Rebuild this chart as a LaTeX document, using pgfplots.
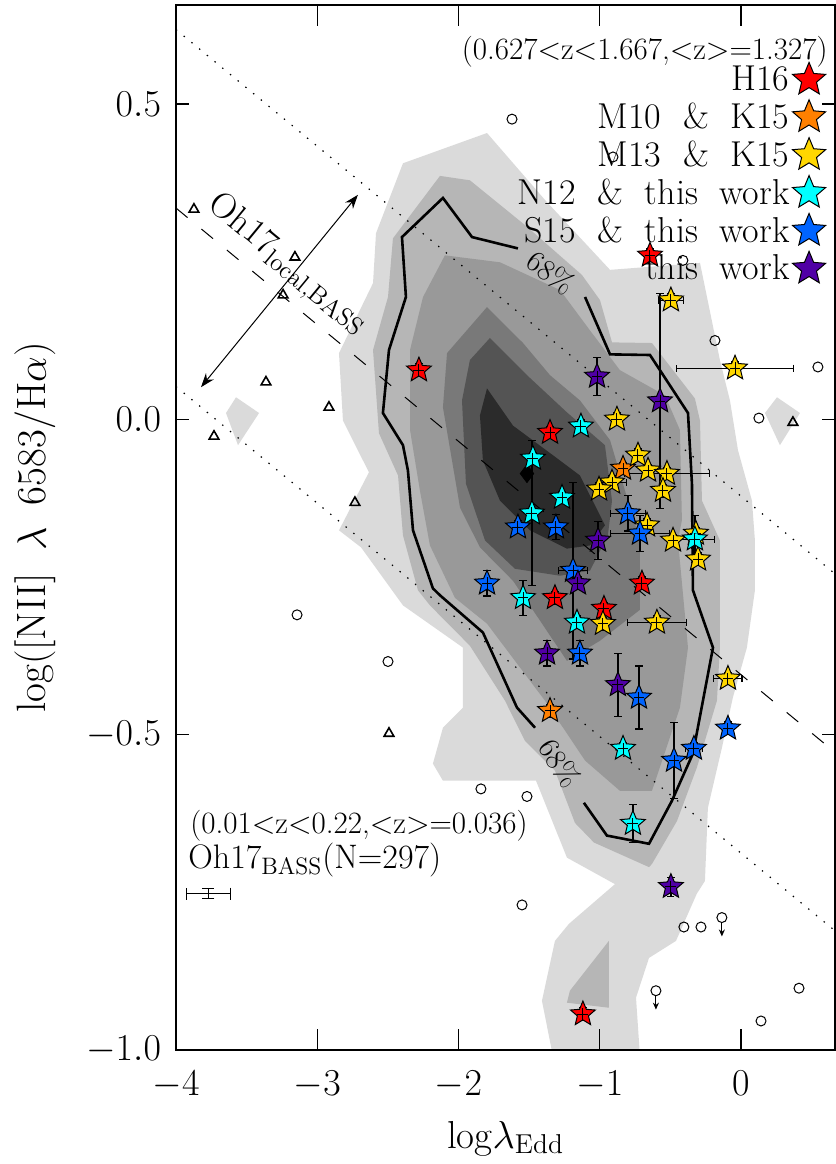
\RequirePackage{fix-cm}
\documentclass[border=0pt]{standalone}
\usepackage{fontspec}
\usepackage{pgfplots}
\usepackage{pgfplotstable}
\pgfplotsset{compat=1.18}
\usetikzlibrary{arrows.meta}

\definecolor{cA}{gray}{0.855}
\definecolor{cB}{gray}{0.715}
\definecolor{cC}{gray}{0.60}
\definecolor{cD}{gray}{0.475}
\definecolor{cE}{gray}{0.33}
\definecolor{cF}{gray}{0.17}
\definecolor{sred}{RGB}{255,0,0}
\definecolor{sorange}{RGB}{255,128,0}
\definecolor{syellow}{RGB}{255,215,0}
\definecolor{scyan}{RGB}{0,255,255}
\definecolor{sblue}{RGB}{0,100,255}
\definecolor{spurple}{RGB}{80,0,165}

\newcommand{\fs}[1]{\fontsize{#1}{#1}\selectfont}
\DeclareRobustCommand{\legfont}{\fontsize{18}{18}\selectfont\spaceskip=0.6em plus 0.1em\relax}
\DeclareRobustCommand{\ylabfont}{\fontsize{20.5}{20.5}\selectfont\spaceskip=0.55em plus 0.1em\relax}

\newcommand{\starpath}{%
  \pgfpathmoveto{\pgfpointpolar{90}{\pgfplotmarksize}}%
  \pgfpathlineto{\pgfpointpolar{126}{0.45*\pgfplotmarksize}}%
  \pgfpathlineto{\pgfpointpolar{162}{\pgfplotmarksize}}%
  \pgfpathlineto{\pgfpointpolar{198}{0.45*\pgfplotmarksize}}%
  \pgfpathlineto{\pgfpointpolar{234}{\pgfplotmarksize}}%
  \pgfpathlineto{\pgfpointpolar{270}{0.45*\pgfplotmarksize}}%
  \pgfpathlineto{\pgfpointpolar{306}{\pgfplotmarksize}}%
  \pgfpathlineto{\pgfpointpolar{342}{0.45*\pgfplotmarksize}}%
  \pgfpathlineto{\pgfpointpolar{18}{\pgfplotmarksize}}%
  \pgfpathlineto{\pgfpointpolar{54}{0.45*\pgfplotmarksize}}%
  \pgfpathclose}
\pgfdeclareplotmark{fstar}{\starpath\pgfusepathqfillstroke}
\pgfdeclareplotmark{fstarx}{%
  \starpath\pgfusepathqfillstroke
  \pgfpathmoveto{\pgfqpoint{-0.42\pgfplotmarksize}{0pt}}%
  \pgfpathlineto{\pgfqpoint{0.42\pgfplotmarksize}{0pt}}%
  \pgfpathmoveto{\pgfqpoint{0pt}{-0.45\pgfplotmarksize}}%
  \pgfpathlineto{\pgfqpoint{0pt}{0.45\pgfplotmarksize}}%
  \pgfusepathqstroke}

\pgfplotstableread{
x y ex ey
-2.280 0.078 0.04 0.01
-0.644 0.260 0.04 0.01
-1.352 -0.021 0.04 0.01
-1.317 -0.283 0.04 0.01
-0.701 -0.260 0.04 0.01
-0.970 -0.300 0.04 0.01
-1.119 -0.943 0.04 0.01
}\tred
\pgfplotstableread{
x y ex ey
-0.835 -0.078 0.04 0.01
-1.352 -0.462 0.04 0.01
}\torange
\pgfplotstableread{
x y ex ey
-0.496 0.189 0.09 0.01
-0.042 0.081 0.415 0.01
-0.878 0.000 0.04 0.01
-0.729 -0.057 0.04 0.01
-0.658 -0.081 0.04 0.01
-0.524 -0.086 0.30 0.01
-0.552 -0.113 0.04 0.01
-0.913 -0.100 0.10 0.01
-1.005 -0.111 0.04 0.01
-0.665 -0.168 0.04 0.01
-0.481 -0.192 0.04 0.01
-0.319 -0.181 0.04 0.01
-0.304 -0.222 0.04 0.01
-0.977 -0.324 0.04 0.01
-0.595 -0.322 0.21 0.01
-0.092 -0.411 0.10 0.01
}\tyellow
\pgfplotstableread{
x y ex ey
-1.133 -0.011 0.04 0.01
-1.473 -0.062 0.04 0.01
-1.267 -0.124 0.04 0.01
-1.480 -0.149 0.04 0.115
-1.543 -0.283 0.04 0.028
-1.161 -0.322 0.04 0.01
-0.835 -0.522 0.04 0.01
-0.765 -0.641 0.04 0.030
-0.326 -0.190 0.14 0.037
}\tcyan
\pgfplotstableread{
x y ex ey
-1.579 -0.171 0.04 0.01
-1.310 -0.171 0.04 0.020
-0.800 -0.149 0.125 0.028
-0.715 -0.181 0.21 0.029
-1.798 -0.260 0.04 0.020
-1.189 -0.240 0.10 0.14
-1.140 -0.371 0.04 0.020
-0.722 -0.441 0.04 0.050
-0.092 -0.490 0.04 0.01
-0.333 -0.522 0.06 0.01
-0.474 -0.541 0.04 0.060
}\tblue
\pgfplotstableread{
x y ex ey
-1.019 0.068 0.04 0.030
-0.573 0.029 0.04 0.170
-1.012 -0.192 0.04 0.030
-1.154 -0.260 0.04 0.01
-1.373 -0.371 0.04 0.020
-0.871 -0.421 0.04 0.050
-0.496 -0.741 0.04 0.015
}\tpurple

\pgfplotsset{
  stars/.style={only marks, mark=fstarx, mark size=6.5pt,
    mark options={draw=black, line width=0.5pt, fill=#1}},
  errs/.style={forget plot, only marks, mark=*, mark size=0.01pt,
    mark options={draw=none, fill=none},
    error bars/.cd, x dir=both, x explicit, y dir=both, y explicit,
    error bar style={black, line width=0.6pt},
    error mark options={rotate=90, black, mark size=1.8pt, line width=0.6pt}},
}

\begin{document}
\begin{tikzpicture}
\begin{axis}[
  scale only axis, width=329.5pt, height=522.5pt,
  xmin=-4, xmax=0.666, ymin=-1, ymax=0.657,
  axis on top,
  axis line style={line width=0.8pt},
  xtick={-4,-3,-2,-1,0}, ytick={-1,-0.5,0,0.5},
  minor tick num=0,
  tick align=inside,
  xtick style={/pgfplots/major tick length=10.5pt, line width=0.7pt, black},
  ytick style={/pgfplots/major tick length=6.5pt, line width=0.7pt, black},
  tick label style={font=\fs{19}},
  xticklabel style={yshift=-7pt},
  yticklabel style={xshift=-4pt, /pgf/number format/.cd, fixed, fixed zerofill, precision=1},
  xlabel={log$\lambda_{\mathrm{Edd}}$},
  ylabel={log([NII] $\lambda$ 6583/H$\alpha$)},
  xlabel style={font=\fs{19.5}, at={(axis description cs:0.5,-0.0938)}, anchor=base},
  ylabel style={font=\ylabfont, at={(axis description cs:-0.1975,0.5)}, anchor=base},
  legend style={draw=none, fill=none, at={(rel axis cs:1,1)}, anchor=north east,
    xshift=-4.5pt, yshift=-28.5pt, font=\legfont, row sep=1.6pt, inner sep=0pt,
    nodes={inner sep=1.5pt}},
  legend cell align=right,
  legend plot pos=right,
  legend image post style={mark=fstar, mark size=8.7pt},
]
% ---- density contours ----
\addplot[forget plot, fill=cA, draw=none] coordinates {
(-2.393,0.406) (-1.798,0.454) (-1.388,0.348) (-0.927,0.237) (-0.290,0.248)
(-0.149,0.094) (-0.078,0.030) (-0.021,-0.049) (0.078,-0.129) (0.099,-0.192)
(0.099,-0.271) (0.042,-0.362) (-0.057,-0.441) (-0.135,-0.521) (-0.234,-0.616)
(-0.255,-0.732) (-0.312,-0.752) (-0.460,-0.827) (-0.651,-0.854) (-0.743,-0.917)
(-0.715,-1.01) (-1.331,-1.01) (-1.409,-0.922) (-1.317,-0.827) (-1.218,-0.800)
(-0.892,-0.737) (-1.232,-0.695) (-1.451,-0.573) (-2.110,-0.573) (-2.181,-0.546)
(-2.110,-0.489) (-1.968,-0.457) (-1.968,-0.362) (-2.393,-0.295) (-2.690,-0.203)
(-2.846,-0.176) (-2.634,-0.084) (-2.818,-0.002) (-2.846,0.105) (-2.605,0.216)
(-2.584,0.295)};
\addplot[forget plot, fill=cA, draw=none] coordinates {
(0.255,0.035) (0.418,0.010) (0.276,-0.041) (0.170,0.010)};
\addplot[forget plot, fill=cA, draw=none] coordinates {
(-3.575,0.035) (-3.412,0.010) (-3.561,-0.041) (-3.646,0.010)};
\addplot[forget plot, fill=cB, draw=none] coordinates {
(-2.131,0.386) (-1.919,0.379) (-1.529,0.308) (-1.126,0.229) (-0.998,0.189)
(-0.913,0.122) (-0.630,0.121) (-0.326,0.033) (-0.290,-0.002) (-0.276,-0.129)
(-0.149,-0.192) (-0.149,-0.362) (-0.170,-0.446) (-0.312,-0.552) (-0.453,-0.637)
(-0.630,-0.705) (-0.651,-0.710) (-1.041,-0.671) (-1.175,-0.640) (-1.317,-0.557)
(-1.529,-0.510) (-1.671,-0.446) (-1.919,-0.359) (-2.202,-0.295) (-2.287,-0.271)
(-2.393,-0.184) (-2.428,-0.089) (-2.563,-0.022) (-2.605,0.110) (-2.499,0.194)
(-2.464,0.287)};
\addplot[forget plot, fill=cB, draw=none] coordinates {
(-0.935,-0.827) (-1.211,-0.906) (-1.232,-0.925) (-0.935,-0.933)};
\addplot[forget plot, fill=cC, draw=none] coordinates {
(-2.096,0.260) (-1.706,0.249) (-1.281,0.205) (-1.069,0.141) (-0.857,0.078)
(-0.538,0.038) (-0.432,-0.017) (-0.418,-0.160) (-0.446,-0.192) (-0.375,-0.362)
(-0.432,-0.457) (-0.630,-0.589) (-0.857,-0.589) (-1.104,-0.541) (-1.388,-0.446)
(-1.798,-0.324) (-2.025,-0.283) (-2.202,-0.200) (-2.273,-0.113) (-2.343,-0.017)
(-2.343,0.110) (-2.251,0.194)};
\addplot[forget plot, fill=cD, draw=none] coordinates {
(-2.081,0.105) (-1.798,0.178) (-1.543,0.121) (-1.352,0.070) (-1.140,0.030)
(-0.927,-0.033) (-0.821,-0.113) (-0.715,-0.192) (-0.715,-0.302) (-0.998,-0.351)
(-1.232,-0.383) (-1.423,-0.319) (-1.614,-0.256) (-1.848,-0.203) (-1.989,-0.140)
(-2.110,0.019)};
\addplot[forget plot, fill=cE, draw=none] coordinates {
(-1.919,0.094) (-1.777,0.129) (-1.515,0.070) (-1.232,0.011) (-0.963,-0.041)
(-0.913,-0.129) (-0.942,-0.184) (-1.069,-0.240) (-1.281,-0.248) (-1.600,-0.237)
(-1.812,-0.192) (-1.947,-0.102) (-1.975,0.030)};
\addplot[forget plot, fill=cF, draw=none] coordinates {
(-1.798,0.049) (-1.614,-0.010) (-1.331,-0.057) (-1.140,-0.089) (-0.963,-0.168)
(-1.069,-0.200) (-1.232,-0.205) (-1.494,-0.176) (-1.706,-0.129) (-1.827,-0.065)
(-1.848,0.006)};
% ---- relation lines ----
\addplot[forget plot, black, line width=0.6pt, dash pattern=on 0.7pt off 4.3pt] coordinates {(-4,0.618) (0.666,-0.245)};
\addplot[forget plot, black, line width=0.6pt, dash pattern=on 0.7pt off 4.3pt] coordinates {(-4,0.052) (0.666,-0.811)};
\addplot[forget plot, black, line width=0.5pt, dash pattern=on 7.5pt off 9pt] coordinates {(-4,0.335) (0.666,-0.528)};
% ---- 68% contour ----
\addplot[forget plot, black, line width=1.3pt] coordinates {
(-1.579,0.271) (-1.904,0.289) (-2.110,0.351) (-2.400,0.289) (-2.372,0.194)
(-2.492,0.110) (-2.535,0.010) (-2.393,-0.041) (-2.358,-0.081) (-2.322,-0.176)
(-2.181,-0.268) (-2.131,-0.279) (-1.827,-0.338) (-1.586,-0.457) (-1.458,-0.489)};
\addplot[forget plot, black, line width=1.3pt] coordinates {
(-1.112,-0.608) (-0.949,-0.660) (-0.651,-0.673) (-0.489,-0.605) (-0.340,-0.530)
(-0.198,-0.362) (-0.340,-0.271) (-0.347,-0.102) (-0.375,0.010) (-0.644,0.102)
(-0.927,0.103) (-1.104,0.194)};
\node[rotate=-36, font=\fs{15}] at (axis cs:-1.345,0.233) {68\%};
\node[rotate=-57, font=\fs{15}] at (axis cs:-1.281,-0.545) {68\%};
% ---- BASS individual points ----
\addplot[forget plot, only marks, mark=o, mark size=2.5pt, mark options={black, line width=0.5pt}] coordinates {
(-1.621,0.476) (-0.411,0.252) (-0.184,0.125) (0.545,0.083) (0.127,0.002)
(-0.906,0.416) (-3.143,-0.310) (-2.499,-0.384) (-1.841,-0.586) (-1.515,-0.598)
(-1.550,-0.770) (-0.404,-0.805) (-0.283,-0.805) (0.411,-0.902) (0.142,-0.954)};
\addplot[forget plot, only marks, mark=o, mark size=2.5pt, mark options={black, line width=0.5pt},
  error bars/.cd, y dir=minus, y explicit, error mark=none,
  error bar style={black, line width=0.5pt, shorten <=2.5pt, -{Stealth[length=3.5pt,width=3pt]}}]
  coordinates {(-0.135,-0.790) +- (0,0.030) (-0.602,-0.906) +- (0,0.030)};
\addplot[forget plot, only marks, mark=triangle, mark size=2.8pt, mark options={black, line width=0.8pt}] coordinates {
(-3.873,0.333) (-3.158,0.257) (-3.242,0.197) (-3.363,0.059) (-2.917,0.019)
(-3.731,-0.027) (-2.733,-0.132) (-2.492,-0.498) (0.368,-0.005)};
\addplot[forget plot, black, line width=0.5pt, {Stealth[length=7pt,width=5pt]}-{Stealth[length=7pt,width=5pt]}]
  coordinates {(-3.823,0.051) (-2.712,0.356)};
\addplot[forget plot, only marks, mark=diamond*, mark size=4.5pt, black] coordinates {(-1.515,-0.086)};
\addplot[forget plot, only marks, mark=*, mark size=0.01pt, mark options={draw=none, fill=none},
  error bars/.cd, x dir=both, x explicit, y dir=both, y explicit,
  error bar style={black, line width=0.6pt},
  error mark options={rotate=90, black, mark size=3pt, line width=0.6pt}]
  coordinates {(-3.770,-0.752) +- (0.155,0.008)};
% ---- high-z stars ----
\addplot[stars=sred] table[x=x,y=y]{\tred}; \addlegendentry{H16}
\addplot[stars=sorange] table[x=x,y=y]{\torange}; \addlegendentry{M10 \& K15}
\addplot[stars=syellow] table[x=x,y=y]{\tyellow}; \addlegendentry{M13 \& K15}
\addplot[stars=scyan] table[x=x,y=y]{\tcyan}; \addlegendentry{N12 \& this work}
\addplot[stars=sblue] table[x=x,y=y]{\tblue}; \addlegendentry{S15 \& this work}
\addplot[stars=spurple] table[x=x,y=y]{\tpurple}; \addlegendentry{this work}
\addplot[errs] table[x=x,y=y,x error=ex,y error=ey]{\tred};
\addplot[errs] table[x=x,y=y,x error=ex,y error=ey]{\torange};
\addplot[errs] table[x=x,y=y,x error=ex,y error=ey]{\tyellow};
\addplot[errs] table[x=x,y=y,x error=ex,y error=ey]{\tcyan};
\addplot[errs] table[x=x,y=y,x error=ex,y error=ey]{\tblue};
\addplot[errs] table[x=x,y=y,x error=ex,y error=ey]{\tpurple};
% ---- texts ----
\node[anchor=base east, font=\fs{15.5}, inner sep=0pt] at (axis cs:0.616,0.570) {(0.627<z<1.667,<z>=1.327)};
\node[anchor=base west, font=\fs{15.5}, inner sep=0pt] at (axis cs:-3.901,-0.656) {(0.01<z<0.22,<z>=0.036)};
\node[anchor=base west, font=\fs{17}, inner sep=0pt] at (axis cs:-3.915,-0.713) {Oh17$_{\mathrm{BASS}}$(N=297)};
\node[anchor=base west, rotate=-39.5, font=\fs{18}, inner sep=0pt] at (axis cs:-3.784,0.336) {Oh17$_{\mathrm{local{,}BASS}}$};
\coordinate (BL) at (rel axis cs:0,0);
\coordinate (TR) at (rel axis cs:1,1);
\end{axis}
\pgfresetboundingbox
\path[use as bounding box] ([xshift=-88pt,yshift=-57pt]BL) rectangle ([xshift=0.4pt,yshift=2.5pt]TR);
\end{tikzpicture}
\end{document}
